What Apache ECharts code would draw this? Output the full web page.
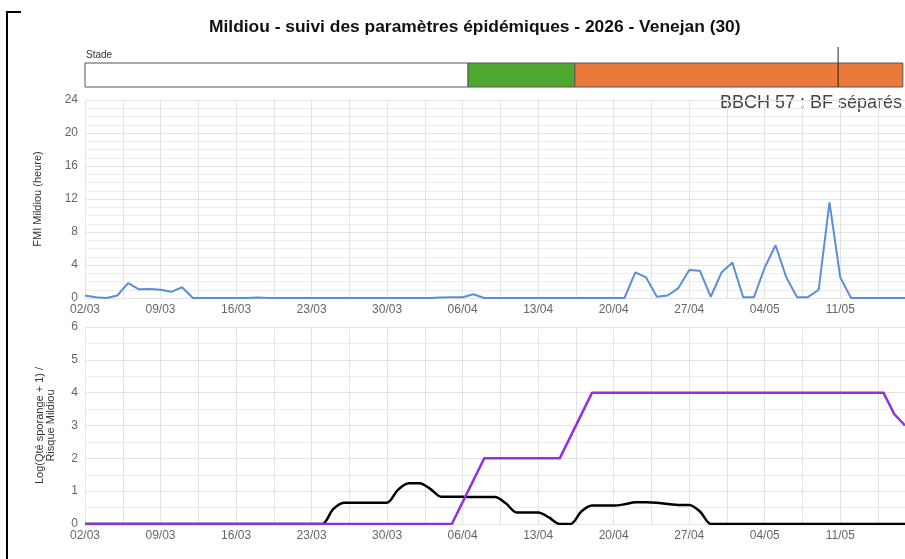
<!DOCTYPE html>
<html>
<head>
<meta charset="utf-8">
<script src="https://cdn.jsdelivr.net/npm/echarts@6/dist/echarts.min.js"></script>
<style>
    html, body { margin: 0; padding: 0; background: #fff; }
    #main { width: 905px; height: 559px; }
</style>
</head>
<body>
<div id="main"></div>
<script>
// premier jour de l'axe (02/03/2026), un point par jour
var startDate = Date.UTC(2026, 2, 2);
var nbDays = 76;

// FMI Mildiou (heure), du 02/03 au 17/05
var fmiValues = [
    0.3, 0.1, 0, 0.3, 1.8, 1.05, 1.1, 1.0, 0.75, 1.3,
    0, 0, 0, 0, 0, 0, 0.05, 0, 0, 0,
    0, 0, 0, 0, 0, 0, 0, 0, 0, 0,
    0, 0, 0, 0.05, 0.1, 0.1, 0.45, 0, 0, 0,
    0, 0, 0, 0, 0, 0, 0, 0, 0, 0,
    0, 3.1, 2.5, 0.15, 0.3, 1.2, 3.4, 3.3, 0.15, 3.1,
    4.3, 0.1, 0.1, 3.7, 6.4, 2.5, 0.1, 0.1, 1.0, 11.6,
    2.5, 0, 0, 0, 0, 0, 0
];

// Log(Qté sporange + 1), du 02/03 au 17/05
var sporangeValues = [
    0, 0, 0, 0, 0, 0, 0, 0, 0, 0,
    0, 0, 0, 0, 0, 0, 0, 0, 0, 0,
    0, 0, 0, 0.45, 0.65, 0.65, 0.65, 0.65, 0.65, 1.04,
    1.24, 1.24, 1.07, 0.83, 0.83, 0.83, 0.82, 0.82, 0.82, 0.63,
    0.35, 0.35, 0.35, 0.2, 0, 0, 0.38, 0.56, 0.56, 0.56,
    0.6, 0.66, 0.66, 0.65, 0.61, 0.58, 0.58, 0.38, 0, 0,
    0, 0, 0, 0, 0, 0, 0, 0, 0, 0,
    0, 0, 0, 0, 0, 0, 0
];

// Risque Mildiou : points de changement
var risqueDates = ['02/03', '05/04', '08/04', '15/04', '18/04', '15/05', '16/05', '17/05'];
var risqueValues = [0, 0, 2, 2, 4, 4, 3.35, 3.0];

// stades (jours depuis le 02/03)
var stadeLimits = [0, 35.5, 45.4, 75.8];
var stadeColors = ['#ffffff', '#4ea72e', '#e97a39'];
var todayDate = '11/05';

var fmiTicks = [0, 4, 8, 12, 16, 20, 24];
var risqueTicks = [0, 1, 2, 3, 4, 5, 6];

function pad(n) { return n < 10 ? '0' + n : '' + n; }
function dayLabel(d) {
    var dt = new Date(startDate + d * 86400000);
    return pad(dt.getUTCDate()) + '/' + pad(dt.getUTCMonth() + 1);
}
function dayIndex(s) {
    var p = s.split('/');
    var dt = Date.UTC(2026, parseInt(p[1], 10) - 1, parseInt(p[0], 10));
    return Math.round((dt - startDate) / 86400000);
}
function daily(values) {
    return values.map(function (v, i) { return [i, v]; });
}

var gridColor = '#e3e3e3';
var labelStyle = { color: '#666', fontSize: 12, fontFamily: 'Liberation Sans, Arial' };

function xAxisFor(gridIndex, show) {
    return {
        type: 'value', gridIndex: gridIndex, min: 0, max: nbDays, interval: 3.5,
        show: show,
        axisLine: { show: false }, axisTick: { show: false },
        splitLine: { show: true, lineStyle: { color: gridColor } },
        axisLabel: Object.assign({
            margin: 6,
            showMaxLabel: false,
            formatter: function (v) { return v % 7 === 0 ? dayLabel(v) : ''; }
        }, labelStyle)
    };
}

var chart = echarts.init(document.getElementById('main'));
chart.setOption({
    backgroundColor: '#fff',
    animation: false,
    title: {
        text: 'Mildiou - suivi des paramètres épidémiques - 2026 - Venejan (30)',
        left: 204, top: 14,
        textStyle: { fontSize: 17.4, fontWeight: 'bold', color: '#111', fontFamily: 'Liberation Sans, Arial' }
    },
    graphic: [
        { type: 'rect', shape: { x: 6, y: 11, width: 2, height: 560 }, style: { fill: '#000' } },
        { type: 'rect', shape: { x: 6, y: 11, width: 15, height: 2 }, style: { fill: '#000' } },
        { type: 'text', left: 86, top: 50, style: { text: 'Stade', fontSize: 10, fill: '#333', fontFamily: 'Liberation Sans, Arial' } },
        { type: 'text', right: 3, top: 94, style: { text: 'BBCH 57 : BF séparés', fontSize: 18, fill: '#444', fontFamily: 'Liberation Sans, Arial' } }
    ],
    grid: [
        { left: 85, right: 0, top: 47, height: 40 },
        { left: 85, right: 0, top: 100, height: 198 },
        { left: 85, right: 0, top: 327, height: 197 }
    ],
    xAxis: [
        { type: 'value', gridIndex: 0, min: 0, max: nbDays, show: false },
        xAxisFor(1, true),
        xAxisFor(2, true)
    ],
    yAxis: [
        { type: 'value', gridIndex: 0, min: 0, max: 1, show: false },
        {
            type: 'value', gridIndex: 1, min: fmiTicks[0], max: fmiTicks[fmiTicks.length - 1], interval: 4,
            name: 'FMI Mildiou (heure)', nameLocation: 'middle', nameGap: 42,
            nameTextStyle: { fontSize: 11, color: '#333', fontFamily: 'Liberation Sans, Arial' },
            axisLine: { show: false }, axisTick: { show: false },
            axisLabel: Object.assign({ margin: 7 }, labelStyle),
            splitLine: { lineStyle: { color: gridColor } },
            minorTick: { show: false, splitNumber: 4 },
            minorSplitLine: { show: true, lineStyle: { color: '#ececec' } }
        },
        {
            type: 'value', gridIndex: 2, min: risqueTicks[0], max: risqueTicks[risqueTicks.length - 1], interval: 1,
            name: 'Log(Qté sporange + 1) /\nRisque Mildiou', nameLocation: 'middle', nameGap: 29,
            nameTextStyle: { fontSize: 11, color: '#333', lineHeight: 11, fontFamily: 'Liberation Sans, Arial' },
            axisLine: { show: false }, axisTick: { show: false },
            axisLabel: Object.assign({ margin: 7 }, labelStyle),
            splitLine: { lineStyle: { color: gridColor } },
            minorTick: { show: false, splitNumber: 2 },
            minorSplitLine: { show: true, lineStyle: { color: '#ececec' } }
        }
    ],
    series: [
        {
            // bandeau des stades
            type: 'custom', xAxisIndex: 0, yAxisIndex: 0,
            data: stadeColors.map(function (c, i) { return [stadeLimits[i], stadeLimits[i + 1], i]; }),
            renderItem: function (params, api) {
                var p0 = api.coord([api.value(0), 0.6]);
                var p1 = api.coord([api.value(1), 0]);
                return {
                    type: 'rect',
                    shape: { x: p0[0], y: p0[1], width: p1[0] - p0[0], height: p1[1] - p0[1] },
                    style: { fill: stadeColors[api.value(2)], stroke: '#555', lineWidth: 1 }
                };
            }
        },
        {
            // repère du jour
            type: 'custom', xAxisIndex: 0, yAxisIndex: 0,
            data: [[dayIndex(todayDate) - 0.2]],
            renderItem: function (params, api) {
                var a = api.coord([api.value(0), 0]);
                var b = api.coord([api.value(0), 1]);
                return { type: 'line', shape: { x1: a[0], y1: a[1], x2: b[0], y2: b[1] }, style: { stroke: '#222', lineWidth: 1 } };
            }
        },
        {
            name: 'FMI', type: 'line', xAxisIndex: 1, yAxisIndex: 1,
            data: daily(fmiValues), showSymbol: false,
            lineStyle: { color: '#5b8ed8', width: 2 }
        },
        {
            name: 'Sporange', type: 'line', xAxisIndex: 2, yAxisIndex: 2,
            data: daily(sporangeValues), showSymbol: false, smooth: 0.3,
            lineStyle: { color: '#000', width: 2.5 }
        },
        {
            name: 'Risque', type: 'line', xAxisIndex: 2, yAxisIndex: 2,
            data: risqueDates.map(function (d, i) { return [dayIndex(d), risqueValues[i]]; }),
            showSymbol: false,
            lineStyle: { color: '#9030e0', width: 2.5 }
        }
    ]
});
</script>
</body>
</html>
